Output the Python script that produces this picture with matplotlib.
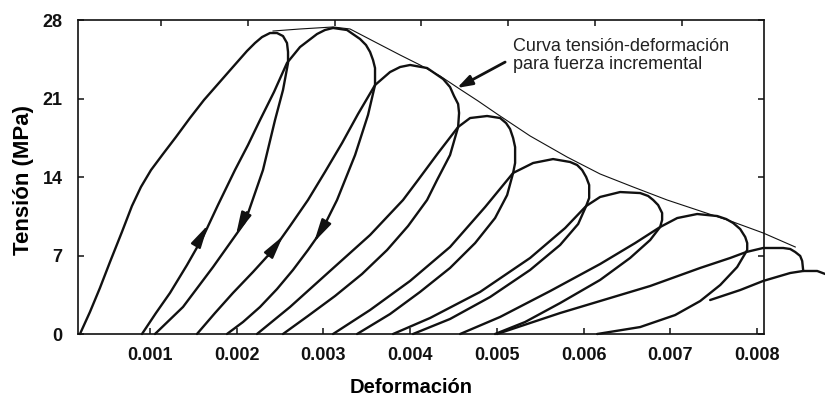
import numpy as np
import matplotlib.pyplot as plt

plt.rcParams['font.family'] = ['Liberation Sans', 'DejaVu Sans']

# strain in units of 1e-3, stress in MPa; each cycle = reload -> top -> unload
eps_c1 = [0.193, 0.308, 0.423, 0.539, 0.677, 0.792, 0.896, 1.012, 1.150, 1.300, 1.461, 1.623,
          1.784, 1.946, 2.119, 2.211, 2.292, 2.384, 2.465, 2.534, 2.580, 2.592, 2.592, 2.534,
          2.442, 2.303, 2.096, 1.727, 1.381, 1.058]
sig_c1 = [0.00, 1.96, 4.10, 6.42, 9.10, 11.41, 13.11, 14.62, 16.05, 17.57, 19.26, 20.87,
          22.29, 23.72, 25.24, 25.95, 26.48, 26.84, 26.84, 26.57, 25.95, 25.15, 24.17, 21.76,
          19.08, 14.62, 9.99, 5.97, 2.41, 0.00]

eps_c2 = [0.908, 1.069, 1.231, 1.427, 1.611, 1.784, 1.980, 2.130, 2.269, 2.430, 2.580, 2.730,
          2.926, 3.018, 3.111, 3.272, 3.422, 3.491, 3.538, 3.572, 3.595, 3.595, 3.514, 3.365,
          3.157, 2.984, 2.822, 2.649, 2.465, 2.269, 2.073, 1.888]
sig_c2 = [0.00, 1.87, 3.66, 6.15, 8.65, 11.50, 14.62, 16.85, 19.08, 21.58, 24.17, 25.59,
          26.75, 27.11, 27.29, 27.11, 26.31, 25.77, 25.15, 24.43, 23.72, 22.20, 19.53, 15.96,
          11.95, 9.27, 7.49, 5.71, 4.01, 2.41, 1.07, 0.00]

eps_c3 = [1.542, 1.750, 1.957, 2.188, 2.419, 2.615, 2.822, 3.018, 3.215, 3.399, 3.595, 3.768,
          3.884, 3.999, 4.195, 4.380, 4.460, 4.506, 4.553, 4.564, 4.553, 4.460, 4.310, 4.195,
          3.976, 3.734, 3.445, 3.134, 2.822, 2.534]
sig_c3 = [0.00, 1.87, 3.66, 5.53, 7.49, 9.63, 11.95, 14.45, 17.03, 19.62, 22.20, 23.36,
          23.81, 23.99, 23.72, 22.74, 22.02, 21.22, 20.51, 19.71, 18.46, 15.96, 13.73, 11.95,
          9.63, 7.49, 5.35, 3.39, 1.61, 0.00]

eps_c4 = [2.234, 2.615, 3.076, 3.538, 3.918, 4.091, 4.322, 4.553, 4.691, 4.887, 5.037, 5.106,
          5.152, 5.187, 5.210, 5.210, 5.187, 5.118, 4.979, 4.749, 4.460, 4.114, 3.768, 3.388]
sig_c4 = [0.00, 2.41, 5.62, 8.83, 11.95, 13.73, 16.14, 18.46, 19.26, 19.44, 19.26, 18.81,
          18.28, 17.48, 16.67, 15.25, 14.36, 12.39, 10.34, 8.11, 5.89, 3.75, 1.78, 0.00]

eps_c5 = [3.111, 3.538, 3.999, 4.460, 4.864, 5.187, 5.418, 5.648, 5.844, 5.925, 5.983, 6.029,
          6.064, 6.064, 6.029, 5.937, 5.729, 5.383, 4.922, 4.460, 4.033]
sig_c5 = [0.00, 2.14, 4.73, 7.76, 11.32, 14.36, 15.25, 15.60, 15.34, 15.07, 14.62, 14.00,
          13.29, 12.13, 11.41, 9.81, 7.94, 5.71, 3.30, 1.34, 0.00]

eps_c6 = [3.803, 4.230, 4.806, 5.383, 5.787, 6.029, 6.190, 6.421, 6.652, 6.744, 6.802, 6.859,
          6.905, 6.905, 6.882, 6.767, 6.536, 6.190, 5.729, 5.325, 4.979]
sig_c6 = [0.00, 1.43, 3.75, 6.78, 9.45, 11.41, 12.22, 12.66, 12.57, 12.31, 11.95, 11.50,
          10.79, 10.17, 9.54, 8.38, 6.78, 4.82, 2.76, 1.07, 0.00]

eps_c7 = [4.576, 5.037, 5.614, 6.190, 6.594, 6.882, 7.079, 7.309, 7.540, 7.644, 7.724, 7.805,
          7.863, 7.886, 7.886, 7.770, 7.575, 7.344, 7.055, 6.652, 6.156]
sig_c7 = [0.00, 1.52, 3.83, 6.24, 8.11, 9.54, 10.34, 10.70, 10.52, 10.25, 9.90, 9.36,
          8.65, 8.11, 7.49, 5.97, 4.37, 2.94, 1.69, 0.62, 0.00]

eps_c8 = [5.002, 5.729, 6.306, 6.767, 7.344, 7.690, 7.874, 8.070, 8.301, 8.382, 8.440, 8.497,
          8.520, 8.532]
sig_c8 = [0.00, 1.87, 3.21, 4.28, 5.89, 6.78, 7.31, 7.67, 7.67, 7.58, 7.31, 6.96,
          6.51, 5.62]

eps_c9 = [7.459, 7.805, 8.070, 8.382, 8.532, 8.693, 8.786]
sig_c9 = [3.03, 3.92, 4.73, 5.44, 5.62, 5.62, 5.35]

# envelope for incremental loading
eps_env = [2.419, 2.730, 3.111, 3.307, 3.595, 3.884, 4.114, 4.345, 4.553, 4.783, 5.002, 5.383,
           5.810, 6.190, 6.571, 6.963, 7.344, 7.724, 8.070, 8.440]
sig_env = [27.02, 27.20, 27.38, 27.20, 26.04, 24.88, 23.99, 23.01, 21.94, 20.78, 19.62, 17.66,
           15.78, 14.27, 13.11, 11.95, 10.97, 9.99, 9.01, 7.76]

# direction arrows (tail eps, tail sig, tip eps, tip sig)
arrows = [(1.554, 8.20, 1.669, 9.72),
          (2.119, 10.88, 1.992, 8.83),
          (2.361, 6.96, 2.534, 8.74),
          (3.030, 9.99, 2.892, 8.20)]

cycles = [(eps_c1, sig_c1), (eps_c2, sig_c2), (eps_c3, sig_c3), (eps_c4, sig_c4),
          (eps_c5, sig_c5), (eps_c6, sig_c6), (eps_c7, sig_c7), (eps_c8, sig_c8),
          (eps_c9, sig_c9)]

xticks = [0.001, 0.002, 0.003, 0.004, 0.005, 0.006, 0.007, 0.008]
yticks = [0, 7, 14, 21, 28]

fig = plt.figure(figsize=(8.25, 3.98), dpi=100)
ax = fig.add_axes([0.0945, 0.1608, 0.8316, 0.7889])

ink = '#111111'
for e, s in cycles:
    ax.plot(np.array(e) * 1e-3, s, color=ink, lw=1.7, clip_on=False,
            solid_capstyle='round', solid_joinstyle='round')
ax.plot(np.array(eps_env) * 1e-3, sig_env, color=ink, lw=0.8, clip_on=False)

for x0, y0, x1, y1 in arrows:
    ax.annotate('', xy=(x1 * 1e-3, y1), xytext=(x0 * 1e-3, y0),
                arrowprops=dict(arrowstyle='-|>,head_length=1.4,head_width=0.33',
                                color=ink, lw=1.5, shrinkA=0, shrinkB=0,
                                mutation_scale=10))

ax.text(5.187e-3, 26.39, 'Curva tensión-deformación\npara fuerza incremental',
        ha='left', va='top', fontsize=13, color='#222222', linespacing=1.05)
ax.annotate('', xy=(4.541e-3, 21.94), xytext=(5.095e-3, 24.25),
            arrowprops=dict(arrowstyle='-|>,head_length=0.9,head_width=0.3',
                            color=ink, lw=2.0, shrinkA=0, shrinkB=0, mutation_scale=10))

ax.set_xlim(0.00017, 0.00808)
ax.set_ylim(0, 28)
ax.set_xticks(xticks)
ax.set_xticklabels(['%.3f' % t for t in xticks])
ax.set_yticks(yticks)
ax.tick_params(direction='in', length=4, width=1.1, labelsize=13, right=True,
               colors=ink)
ax.tick_params(axis='x', pad=9)
ax.tick_params(axis='y', pad=11)
for lab in ax.get_xticklabels() + ax.get_yticklabels():
    lab.set_fontweight('bold')

# top ticks sit slightly offset from the bottom ones
top = ax.secondary_xaxis('top')
top.set_xticks([t + 0.00013 for t in xticks[:7]])
top.tick_params(direction='in', length=4, width=1.1, labeltop=False, colors=ink)

for sp in ax.spines.values():
    sp.set_linewidth(1.2)
    sp.set_color(ink)
top.spines['top'].set_visible(False)

ax.set_xlabel('Deformación', fontsize=14.5, fontweight='bold', va='center')
ax.xaxis.set_label_coords(0.485, -0.169)
ax.set_ylabel('Tensión (MPa)', fontsize=16, fontweight='bold', va='center')
ax.yaxis.set_label_coords(-0.080, 0.49)

fig.savefig('out.png', dpi=100)
